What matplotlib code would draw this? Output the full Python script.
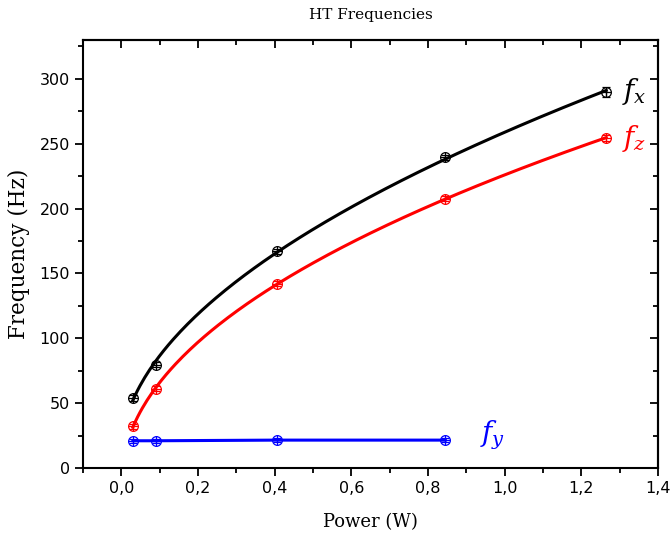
import numpy as np
import matplotlib
matplotlib.use("Agg")
import matplotlib.pyplot as plt
from matplotlib.ticker import MultipleLocator, FuncFormatter, NullFormatter

# Data
px = [0.03, 0.09, 0.405, 0.845, 1.265]
fx = [54, 79.5, 167, 239.5, 290]
fx_err = [2, 2, 2, 2, 4]
pz = [0.03, 0.09, 0.405, 0.845, 1.265]
fz = [32, 61, 142, 207.5, 254.5]
fz_err = [2, 2, 2, 2, 2]
py = [0.03, 0.09, 0.405, 0.845]
fy = [21, 21, 21.5, 21.5]
fy_err = [1.5, 1.5, 1.5, 1.5]

serif = ["DejaVu Serif"]

fig = plt.figure(figsize=(6.71, 5.45), dpi=100)
ax = fig.add_axes([83/671, 1-468/545, (658-83)/671, (468-40)/545])

def draw(x, y, err, color):
    x = np.asarray(x); y = np.asarray(y)
    ax.errorbar(x, y, yerr=err, fmt='o', mfc='none', mec=color, ecolor=color,
                ms=7, mew=0.9, elinewidth=0.9, capsize=3, capthick=0.9, zorder=3)
    ax.plot(x, y, '+', color=color, ms=7, mew=0.9, zorder=3)

def powerfit(x, y, color):
    # fit y = a*x^b + c (grid over b, least squares for a, c)
    x = np.asarray(x, float); y = np.asarray(y, float)
    best = None
    for b in np.linspace(0.1, 1.5, 1401):
        A = np.vstack([x**b, np.ones_like(x)]).T
        coef, res, *_ = np.linalg.lstsq(A, y, rcond=None)
        r = np.sum((A @ coef - y)**2)
        if best is None or r < best[0]:
            best = (r, b, coef)
    _, b, (a, c) = best
    xs = np.linspace(x.min(), x.max(), 200)
    ax.plot(xs, a * xs**b + c, color=color, lw=2.2, zorder=2)

powerfit(px, fx, 'black')
powerfit(pz, fz, 'red')
ax.plot(py, fy, color='blue', lw=2.2, zorder=2)
draw(px, fx, fx_err, 'black')
draw(pz, fz, fz_err, 'red')
draw(py, fy, fy_err, 'blue')

ax.set_xlim(-0.1, 1.4)
ax.set_ylim(0, 330)
ax.set_xticks([0.0, 0.2, 0.4, 0.6, 0.8, 1.0, 1.2, 1.4])
ax.xaxis.set_minor_locator(MultipleLocator(0.1))
ax.yaxis.set_major_locator(MultipleLocator(50))
ax.yaxis.set_minor_locator(MultipleLocator(25))
ax.xaxis.set_major_formatter(FuncFormatter(lambda v, p: f"{v:.1f}".replace('.', ',')))

for s in ax.spines.values():
    s.set_linewidth(1.5)
ax.tick_params(which='both', direction='out', width=1.3, labelsize=11.5)
ax.tick_params(which='major', length=6)
ax.tick_params(which='minor', length=3.5)
for lab in ax.get_xticklabels() + ax.get_yticklabels():
    lab.set_family(["DejaVu Sans"])

# inward ticks on top and right
top = ax.secondary_xaxis('top')
top.set_xticks([0.0, 0.2, 0.4, 0.6, 0.8, 1.0, 1.2, 1.4])
top.xaxis.set_minor_locator(MultipleLocator(0.1))
top.xaxis.set_major_formatter(NullFormatter())
top.tick_params(which='both', direction='in', width=1.3)
top.tick_params(which='major', length=6)
top.tick_params(which='minor', length=3.5)
right = ax.secondary_yaxis('right')
right.yaxis.set_major_locator(MultipleLocator(50))
right.yaxis.set_minor_locator(MultipleLocator(25))
right.yaxis.set_major_formatter(NullFormatter())
right.tick_params(which='both', direction='in', width=1.3)
right.tick_params(which='major', length=6)
right.tick_params(which='minor', length=3.5)
for sec in (top, right):
    for s in sec.spines.values():
        s.set_linewidth(1.5)

ax.set_xlabel("Power (W)", family=serif, fontsize=13, labelpad=12)
ax.set_ylabel("Frequency (Hz)", family=serif, fontsize=15.5, labelpad=7)
ax.set_title("HT Frequencies", family=serif, fontsize=11, pad=15)

ax.text(1.305, 290, r"$f_x$", color='black', fontsize=20, va='center',
        math_fontfamily='dejavuserif')
ax.text(1.305, 254, r"$f_z$", color='red', fontsize=20, va='center',
        math_fontfamily='dejavuserif')
ax.text(0.935, 25, r"$f_y$", color='blue', fontsize=20, va='center',
        math_fontfamily='dejavuserif')

fig.savefig("out.png", dpi=100)
